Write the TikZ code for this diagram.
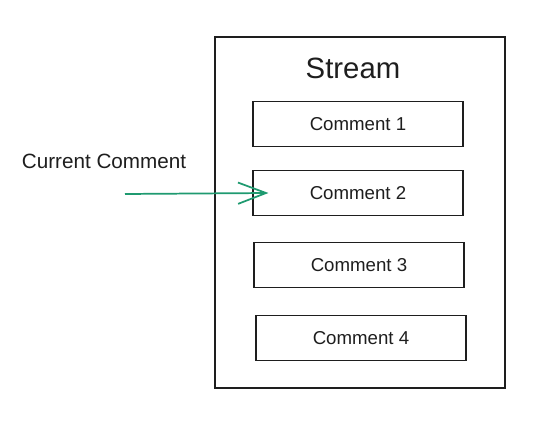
\documentclass[tikz,border=0pt]{standalone}
\usepackage{fontspec}
\setmainfont{Liberation Sans}
\usetikzlibrary{arrows.meta, positioning}
\definecolor{inkline}{HTML}{1E1E1E}
\definecolor{pointergreen}{HTML}{1F9A70}

\begin{document}
\begin{tikzpicture}[
    x=0.75pt, y=-0.75pt,
    stream/.style  = {rectangle, draw=inkline, line width=0.9pt,
                      minimum width=217.5pt, minimum height=263.25pt},
    title/.style   = {font=\fontsize{22}{26}\selectfont, text=inkline},
    cmt/.style     = {rectangle, draw=inkline, line width=0.8pt,
                      minimum width=157.5pt, minimum height=33.75pt,
                      font=\fontsize{14}{17}\selectfont, text=inkline},
    lbl/.style     = {font=\fontsize{15.5}{18}\selectfont, text=inkline},
    ptr/.style     = {-{Straight Barb[length=21pt, width=16pt]},
                      draw=pointergreen, line width=1.3pt}
  ]
  \useasboundingbox (0,0) rectangle (540,423);

  % Stream container
  \node[stream] (stream) at (360,212.5) {};
  \node[title]  (streamtitle) at (353,68) {Stream};

  % Comments
  \node[cmt] (c1) at (358,124) {Comment 1};
  \node[cmt] (c2) at (358,193) {Comment 2};
  \node[cmt] (c3) at (359,265) {Comment 3};
  \node[cmt] (c4) at (361,338) {Comment 4};

  % Pointer
  \node[lbl] (current) at (104,161) {Current Comment};
  \coordinate (ptrstart) at (125,194);
  \draw[ptr] (ptrstart) -- ([xshift=12pt]c2.west);
\end{tikzpicture}
\end{document}
